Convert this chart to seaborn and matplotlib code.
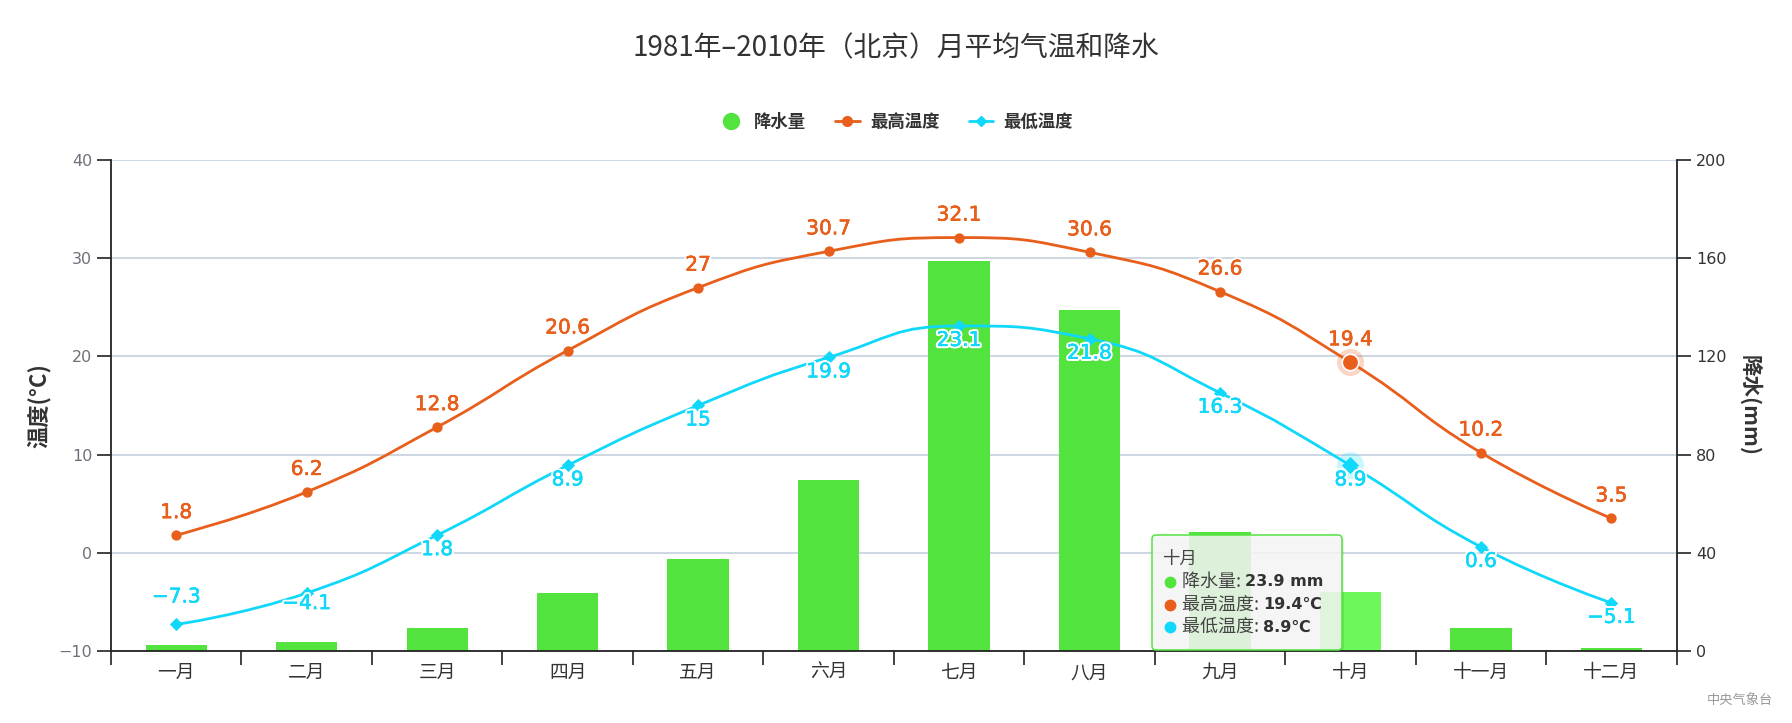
import numpy as np
import pandas as pd
import matplotlib
matplotlib.use('Agg')
import matplotlib.pyplot as plt
import seaborn as sns
from matplotlib.path import Path
from matplotlib.patches import PathPatch, FancyBboxPatch
from matplotlib.lines import Line2D
from matplotlib.transforms import IdentityTransform
from matplotlib.font_manager import FontProperties
import matplotlib.patheffects as pe

# ---------------- data ----------------
months = ['一月', '二月', '三月', '四月', '五月', '六月',
          '七月', '八月', '九月', '十月', '十一月', '十二月']
precip = [2.6, 3.8, 9.2, 23.6, 37.4, 69.7, 158.8, 138.8, 48.3, 23.9, 9.2, 1.3]
tmax = [1.8, 6.2, 12.8, 20.6, 27, 30.7, 32.1, 30.6, 26.6, 19.4, 10.2, 3.5]
tmin = [-7.3, -4.1, 1.8, 8.9, 15, 19.9, 23.1, 21.8, 16.3, 8.9, 0.6, -5.1]
temp_ticks = [-10, 0, 10, 20, 30, 40]
precip_ticks = [0, 40, 80, 120, 160, 200]
series_names = ['降水量', '最高温度', '最低温度']
title = '1981年–2010年（北京）月平均气温和降水'
ylabel_left = '温度(°C)'
ylabel_right = '降水(mm)'
credit = '中央气象台'
hover_idx = 9  # month shown in the tooltip

# ---------------- style ----------------
GREEN = '#53e33f'
GREEN_HL = '#6cf85a'
ORANGE = '#e85e1b'
CYAN = '#10d8fa'
GRID = '#c9d4e2'
AX = '#222222'
# vertical label offsets in pixels (positive = up), baseline-anchored
max_label_dy = [17] * 12
min_label_dy = [22, -16, -20, -20, -20, -20, -20, -20, -20, -20, -20, -20]

sns.set_style('white')
plt.rcParams['font.family'] = ['Noto Sans CJK SC', 'DejaVu Sans']
plt.rcParams['axes.unicode_minus'] = True

W, H = 1792, 723
fig = plt.figure(figsize=(W / 100, H / 100), dpi=100)
L, R, T, B = 111, 1676.6, 160, 651
ax_t = fig.add_axes([L / W, 1 - B / H, (R - L) / W, (B - T) / H])
ax_p = ax_t.twinx()

df = pd.DataFrame({'pos': np.arange(len(months)), 'month': months,
                   'precip': precip, 'tmax': tmax, 'tmin': tmin})

# ---- bars (right axis) ----
bar_pal = {m: (GREEN_HL if i == hover_idx else GREEN) for i, m in enumerate(months)}
sns.barplot(data=df, x='pos', y='precip', hue='month', palette=bar_pal,
            native_scale=True, dodge=False, legend=False, width=0.47,
            saturation=1, errorbar=None, linewidth=0, edgecolor='none', ax=ax_p)
ax_p.set_ylim(0, 200)
ax_p.set_yticks(precip_ticks)
ax_p.grid(axis='y', color=GRID, linewidth=1.3)
ax_p.grid(axis='x', visible=False)
ax_p.set_axisbelow(True)
ax_p.set_xlabel('')
ax_p.set_ylabel(ylabel_right, rotation=-90, fontsize=15.5, fontweight='bold',
                color='#333333', va='center', ha='center')
ax_p.yaxis.set_label_coords((1750 - L) / (R - L), 0.5)
for s in ['left', 'top', 'bottom']:
    ax_p.spines[s].set_visible(False)
ax_p.spines['right'].set_color(AX)
ax_p.spines['right'].set_linewidth(1.3)
ax_p.tick_params(axis='y', length=10, width=1.2, color=AX, labelsize=11.5,
                 labelcolor='#333333', pad=4, direction='out')
for lab in ax_p.get_yticklabels():
    lab.set_family('DejaVu Sans')

# ---- temperature axis (left) on top ----
ax_t.set_zorder(ax_p.get_zorder() + 1)
ax_t.patch.set_visible(False)
ax_t.set_xlim(-0.5, len(months) - 0.5)
ax_t.set_ylim(-10, 40)
ax_t.set_yticks(temp_ticks)
ax_t.set_xticks(np.arange(-0.5, len(months)), labels=[''] * (len(months) + 1))
ax_t.set_xticks(np.arange(len(months)), labels=months, minor=True)
ax_t.grid(False)
ax_t.tick_params(axis='y', length=10, width=1.2, color=AX, labelsize=11.5,
                 labelcolor='#6e7079', pad=3.5, direction='out', left=True)
ax_t.tick_params(axis='x', which='major', length=10, width=1.2, color=AX,
                 direction='out', bottom=True)
ax_t.tick_params(axis='x', which='minor', length=0, labelsize=13.5,
                 labelcolor='#333333', pad=8)
for lab in ax_t.get_yticklabels():
    lab.set_family('DejaVu Sans')
for s in ['top', 'right']:
    ax_t.spines[s].set_visible(False)
for s in ['left', 'bottom']:
    ax_t.spines[s].set_color(AX)
    ax_t.spines[s].set_linewidth(1.3)


def echarts_smooth(ax, xs, ys, smooth=0.5):
    pts = ax.transData.transform(np.column_stack([xs, ys]).astype(float))
    n = len(pts)
    verts = [pts[0]]
    codes = [Path.MOVETO]
    cp0 = pts[0].copy()
    for i in range(1, n):
        x, y = pts[i]
        px, py = pts[i - 1]
        if i == n - 1:
            cp1 = np.array([x, y])
            ncp0 = None
        else:
            nx, ny = pts[i + 1]
            vx, vy = nx - px, ny - py
            lp = np.hypot(x - px, y - py)
            ln = np.hypot(nx - x, ny - y)
            r = ln / (ln + lp)
            ncx = x + vx * smooth * r
            ncy = y + vy * smooth * r
            ncx = max(min(ncx, max(nx, x)), min(nx, x))
            ncy = max(min(ncy, max(ny, y)), min(ny, y))
            vx, vy = ncx - x, ncy - y
            c1x = x - vx * lp / ln
            c1y = y - vy * lp / ln
            c1x = max(min(c1x, max(px, x)), min(px, x))
            c1y = max(min(c1y, max(py, y)), min(py, y))
            vx, vy = x - c1x, y - c1y
            ncx = x + vx * ln / lp
            ncy = y + vy * ln / lp
            cp1 = np.array([c1x, c1y])
            ncp0 = np.array([ncx, ncy])
        verts += [cp0, cp1, np.array([x, y])]
        codes += [Path.CURVE4] * 3
        cp0 = ncp0
    verts = ax.transData.inverted().transform(np.array(verts))
    return Path(verts, codes)


LW = 2.0
ax_t.add_patch(PathPatch(echarts_smooth(ax_t, df['pos'], df['tmax']), fill=False,
                         edgecolor=ORANGE, linewidth=LW, zorder=3, capstyle='round'))
ax_t.add_patch(PathPatch(echarts_smooth(ax_t, df['pos'], df['tmin']), fill=False,
                         edgecolor=CYAN, linewidth=LW, zorder=3, capstyle='round'))

norm = df.index != hover_idx
sns.scatterplot(data=df[norm], x='pos', y='tmax', color=ORANGE, s=55, marker='o',
                linewidth=0, legend=False, ax=ax_t, zorder=4)
sns.scatterplot(data=df[norm], x='pos', y='tmin', color=CYAN, s=45, marker='D',
                linewidth=0, legend=False, ax=ax_t, zorder=4)
ax_t.set_xlabel('')
ax_t.set_ylabel(ylabel_left, fontsize=16, fontweight='bold', color='#333333',
                va='center', ha='center')
ax_t.yaxis.set_label_coords((38.5 - L) / (R - L), 0.5)
# hovered point emphasis
hx = df['pos'][hover_idx]
ax_t.scatter([hx], [tmax[hover_idx]], s=380, color=ORANGE, alpha=0.25, linewidth=0, zorder=4)
ax_t.scatter([hx], [tmax[hover_idx]], s=140, color=ORANGE, edgecolor='white',
             linewidth=1.2, zorder=5)
ax_t.scatter([hx], [tmin[hover_idx]], s=380, color=CYAN, alpha=0.22, linewidth=0, zorder=4)
ax_t.scatter([hx], [tmin[hover_idx]], s=75, color=CYAN, marker='D', linewidth=0, zorder=5)
ax_p.set_xlim(-0.5, len(months) - 0.5)
ax_t.set_xlim(-0.5, len(months) - 0.5)


def fmt(v):
    return f'{v:g}'.replace('-', '−')


def label_fx(color):
    return [pe.withStroke(linewidth=3.2, foreground='white'),
            pe.withStroke(linewidth=0.35, foreground=color)]


for i, v in enumerate(tmax):
    ax_t.annotate(fmt(v), (i, v), xytext=(0, max_label_dy[i] * 0.72),
                  textcoords='offset points', ha='center', va='baseline',
                  fontsize=14.5, family='DejaVu Sans', color=ORANGE,
                  path_effects=label_fx(ORANGE), zorder=6)
for i, v in enumerate(tmin):
    ax_t.annotate(fmt(v), (i, v), xytext=(0, min_label_dy[i] * 0.72),
                  textcoords='offset points', ha='center', va='baseline',
                  fontsize=14.5, family='DejaVu Sans', color=CYAN,
                  path_effects=label_fx(CYAN), zorder=6)

# ---- title, legend, credit ----
fig.text(0.5, 1 - 48 / H, title, ha='center', va='center', fontsize=20, color='#333333')
handles = [
    Line2D([], [], marker='o', linestyle='none', markersize=11.5, color=GREEN),
    Line2D([], [], marker='o', linestyle='-', linewidth=LW, markersize=7, color=ORANGE),
    Line2D([], [], marker='D', linestyle='-', linewidth=LW, markersize=5.5, color=CYAN),
]
fig.legend(handles, series_names, loc='center', bbox_to_anchor=(0.5, 1 - 122 / H),
           ncol=3, frameon=False, handlelength=1.4, handletextpad=0.6,
           columnspacing=1.7, labelcolor='#333333',
           prop=FontProperties(family=['Noto Sans CJK SC', 'DejaVu Sans'],
                               weight='bold', size=12.5))
fig.text(1740 / W, 1 - 700 / H, credit, ha='center', va='center', fontsize=9.5, color='#999999')

# ---- tooltip ----
ID = IdentityTransform()
bx0, bx1, by0, by1 = 1152, 1342, 535, 650
shadow = FancyBboxPatch((bx0 + 2, H - by1 - 2), bx1 - bx0, by1 - by0,
                        boxstyle='round,pad=0,rounding_size=4', transform=ID,
                        facecolor='black', alpha=0.08, edgecolor='none', zorder=20)
box = FancyBboxPatch((bx0, H - by1), bx1 - bx0, by1 - by0,
                     boxstyle='round,pad=0,rounding_size=4', transform=ID,
                     facecolor=(0.969, 0.969, 0.969, 0.85), edgecolor=GREEN,
                     linewidth=1.1, zorder=21)
fig.add_artist(shadow)
fig.add_artist(box)
fig.text(1162, H - 559, months[hover_idx], transform=ID, ha='left', va='center',
         fontsize=12.5, color='#444444', zorder=22)
rows = [(GREEN, series_names[0], f'{precip[hover_idx]:g} mm'),
        (ORANGE, series_names[1], f'{tmax[hover_idx]:g}℃'),
        (CYAN, series_names[2], f'{tmin[hover_idx]:g}℃')]
renderer = fig.canvas.get_renderer()
for k, (c, name, val) in enumerate(rows):
    yy = H - (582 + k * 22.5)
    fig.add_artist(Line2D([1170], [yy], marker='o', markersize=7.5, color=c,
                          linestyle='none', transform=ID, zorder=22))
    t = fig.text(1182, yy, name + ': ', transform=ID, ha='left', va='center',
                 fontsize=13, color='#444444', zorder=22)
    bb = t.get_window_extent(renderer)
    fig.text(bb.x1, yy, val, transform=ID, ha='left', va='center', fontsize=11.5,
             fontweight='bold', color='#333333', zorder=22,
             family=['DejaVu Sans', 'Noto Sans CJK SC'])

fig.savefig('out.png', dpi=100)
